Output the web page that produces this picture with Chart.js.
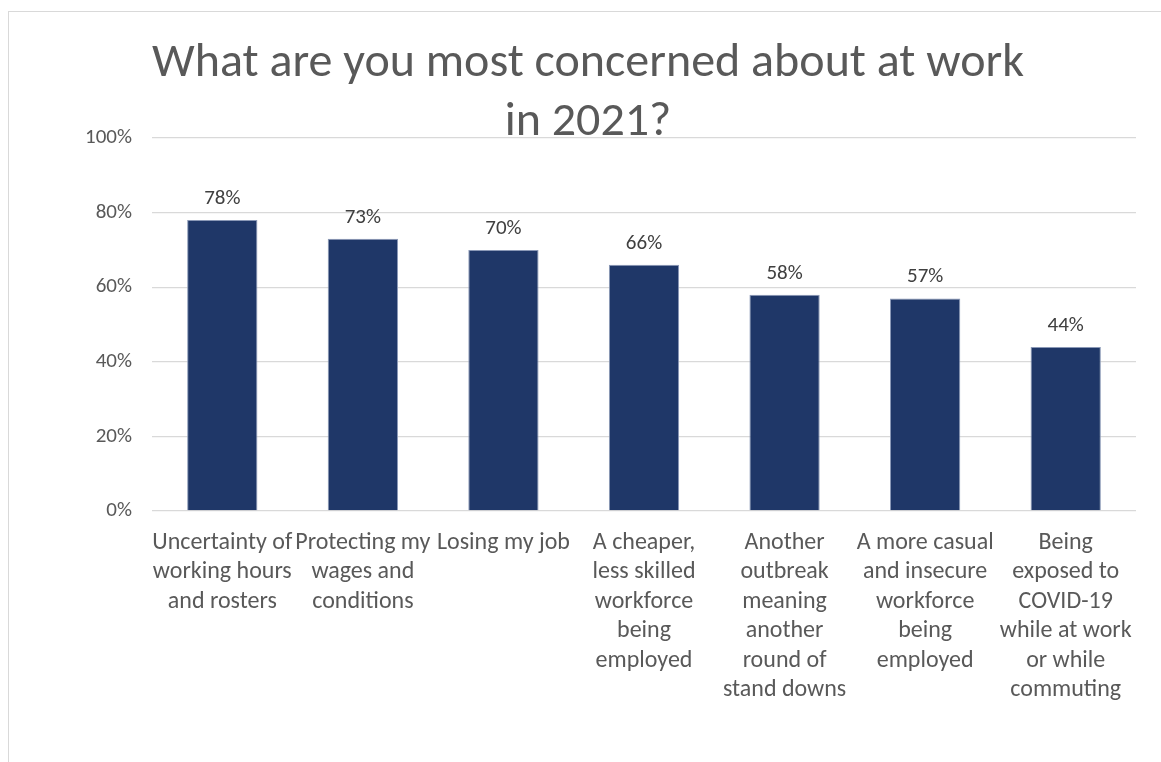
<!DOCTYPE html>
<html>
<head>
<meta charset="utf-8">
<title>Work concerns 2021</title>
<script src="https://cdn.jsdelivr.net/npm/chart.js@4/dist/chart.umd.min.js"></script>
<style>
  html, body { margin: 0; padding: 0; background: #fff; overflow: hidden; }
  #frame {
    position: absolute; left: 8px; top: 11px;
    width: 1300px; height: 900px;
    border: 1px solid #d9d9d9;
  }
  #wrap { position: absolute; left: 0; top: 0; width: 1161px; height: 762px; }
</style>
</head>
<body>
<div id="frame"></div>
<div id="wrap"><canvas id="concernChart"></canvas></div>
<script>
// survey answers, one entry per bar
const categories = [
  ['Uncertainty of', 'working hours', 'and rosters'],
  ['Protecting my', 'wages and', 'conditions'],
  ['Losing my job'],
  ['A cheaper,', 'less skilled', 'workforce', 'being', 'employed'],
  ['Another', 'outbreak', 'meaning', 'another', 'round of', 'stand downs'],
  ['A more casual', 'and insecure', 'workforce', 'being', 'employed'],
  ['Being', 'exposed to', 'COVID-19', 'while at work', 'or while', 'commuting']
];
const percentages = [78, 73, 70, 66, 58, 57, 44];
const yTicks = [0, 20, 40, 60, 80, 100];
const titleLines = ['What are you most concerned about at work', 'in 2021?'];

const FONT = 'Carlito, Lato, "Open Sans", sans-serif';

// title sits centred on the whole chart box and runs over the top gridline
const titlePlugin = {
  id: 'twoLineTitle',
  afterDraw(chart) {
    const ctx = chart.ctx;
    const cx = 588;
    ctx.save();
    ctx.fillStyle = '#595959';
    ctx.font = '48px ' + FONT;
    ctx.textAlign = 'center';
    ctx.textBaseline = 'alphabetic';
    ctx.fillText(titleLines[0], cx, 76);
    ctx.fillText(titleLines[1], cx, 135);
    ctx.restore();
  }
};

// percentage above every bar
const valueLabels = {
  id: 'valueLabels',
  afterDatasetsDraw(chart) {
    const ctx = chart.ctx;
    const meta = chart.getDatasetMeta(0);
    ctx.save();
    ctx.fillStyle = '#404040';
    ctx.font = '21px ' + FONT;
    ctx.textAlign = 'center';
    ctx.textBaseline = 'alphabetic';
    meta.data.forEach((bar, i) => {
      ctx.fillText(percentages[i] + '%', bar.x, bar.y - 16);
    });
    ctx.restore();
  }
};

new Chart(document.getElementById('concernChart'), {
  type: 'bar',
  data: {
    labels: categories,
    datasets: [{
      data: percentages,
      backgroundColor: '#1f3768',
      borderColor: '#8a98b6',
      borderWidth: 1,
      barPercentage: 0.5,
      categoryPercentage: 1
    }]
  },
  options: {
    responsive: true,
    maintainAspectRatio: false,
    animation: false,
    layout: { padding: { top: 138, right: 25, left: 0, bottom: 0 } },
    plugins: {
      legend: { display: false },
      title: { display: false },
      tooltip: { enabled: false }
    },
    scales: {
      x: {
        grid: { display: false, drawTicks: false },
        border: { display: false },
        ticks: {
          color: '#595959',
          font: { family: FONT, size: 24, lineHeight: 1.23 },
          maxRotation: 0,
          minRotation: 0,
          autoSkip: false,
          padding: 17
        },
        afterFit(scale) { scale.height = 251; }
      },
      y: {
        min: 0,
        max: 100,
        afterBuildTicks(scale) { scale.ticks = yTicks.map(v => ({ value: v })); },
        grid: { color: '#d9d9d9', lineWidth: 1.3, drawTicks: false },
        border: { display: false },
        ticks: {
          color: '#595959',
          font: { family: FONT, size: 21 },
          padding: 20,
          callback: v => v + '%'
        },
        afterFit(scale) { scale.width = 152; }
      }
    }
  },
  plugins: [titlePlugin, valueLabels]
});
</script>
</body>
</html>
